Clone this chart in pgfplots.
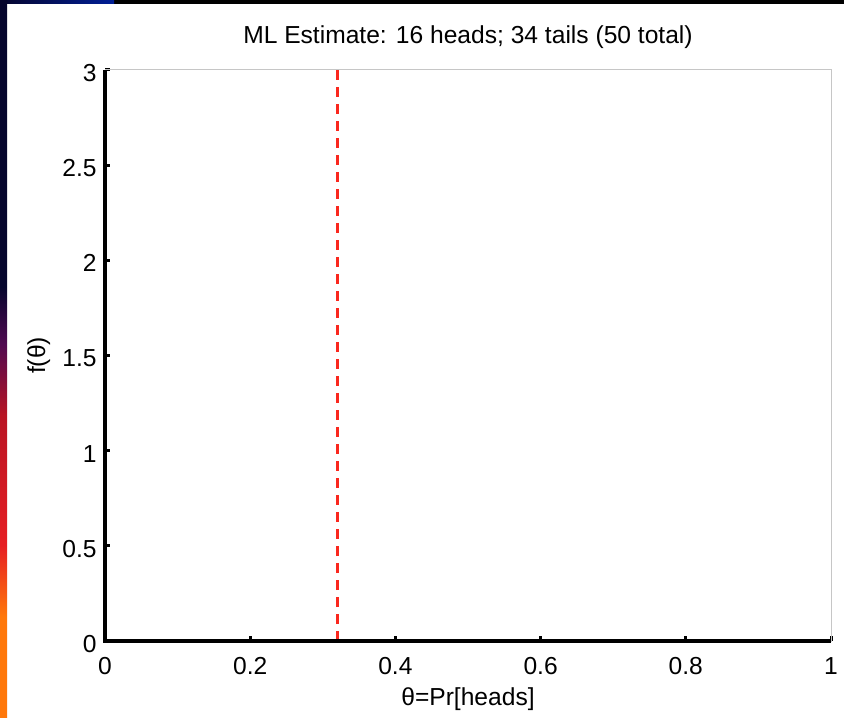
\documentclass[border=0pt]{standalone}
\usepackage{pgfplots}
\pgfplotsset{compat=1.18}
\usepackage{fontspec}
\setmainfont{Liberation Sans}

\definecolor{mlred}{RGB}{250,40,30}
\definecolor{navy}{RGB}{5,5,45}
\definecolor{slideblue}{RGB}{0,30,150}
\definecolor{stripred}{RGB}{230,30,35}
\definecolor{stripdark}{RGB}{185,20,35}
\definecolor{strippurple}{RGB}{80,10,80}
\definecolor{striporange}{RGB}{255,120,10}

\pgfdeclareverticalshading{leftstrip}{100bp}{%
  color(0bp)=(striporange); color(25bp)=(striporange); color(32bp)=(striporange);
  color(37bp)=(stripred); color(46bp)=(stripdark); color(51bp)=(strippurple);
  color(55bp)=(navy); color(100bp)=(navy)}

\begin{document}
\begin{tikzpicture}
% slide background (1px = 0.5pt)
\fill[white] (0,0) rectangle (422pt,358.5pt);
\fill[black] (0,356.5pt) rectangle (422pt,358.5pt);
\shade[left color=navy, right color=slideblue] (0,356.5pt) rectangle (57pt,358.5pt);
\shade[shading=leftstrip] (0,0) rectangle (3.5pt,358.5pt);

\begin{axis}[
    at={(52.5pt,38pt)}, anchor=south west,
    scale only axis,
    width=363pt, height=285.5pt,
    xmin=0, xmax=1, ymin=0, ymax=3,
    xtick={0,0.2,0.4,0.6,0.8,1},
    ytick={0,0.5,1,1.5,2,2.5,3},
    xtick pos=left, ytick pos=left,
    tick align=inside,
    major tick length=2.5pt,
    tick style={black, line width=1.5pt},
    axis line style={draw=gray!45, line width=0.5pt},
    font=\fontsize{12.3}{14}\selectfont,
    /pgf/number format/assume math mode=true,
    xticklabel style={anchor=base, yshift=-16.5pt, inner sep=0pt},
    yticklabel style={anchor=east, xshift=-4pt, yshift=-1.5pt, inner sep=0pt},
    title={ML Estimate: 16 heads; 34 tails (50 total)},
    title style={at={([yshift=7pt]axis description cs:0.5,1)}, anchor=base, inner sep=0pt},
    xlabel={θ=Pr[heads]},
    every axis x label/.style={at={([yshift=-32pt]axis description cs:0.5,0)}, anchor=base, inner sep=0pt},
    ylabel={f(θ)},
    every axis y label/.style={at={([xshift=-30pt]axis description cs:0,0.5)}, rotate=90, anchor=base, inner sep=0pt},
    clip=false,
]

% maximum likelihood estimate 16/50
\addplot[mlred, line width=1.4pt, dash pattern=on 5pt off 3.5pt] coordinates {(0.32,0) (0.32,3)};

% thick MATLAB-style left and bottom axes
\draw[black, line width=2pt] (rel axis cs:0,1) -- (rel axis cs:0,0) -- (rel axis cs:1,0);
\end{axis}
\pgfresetboundingbox
\useasboundingbox (0,0) rectangle (422pt,358.5pt);
\end{tikzpicture}
\end{document}
